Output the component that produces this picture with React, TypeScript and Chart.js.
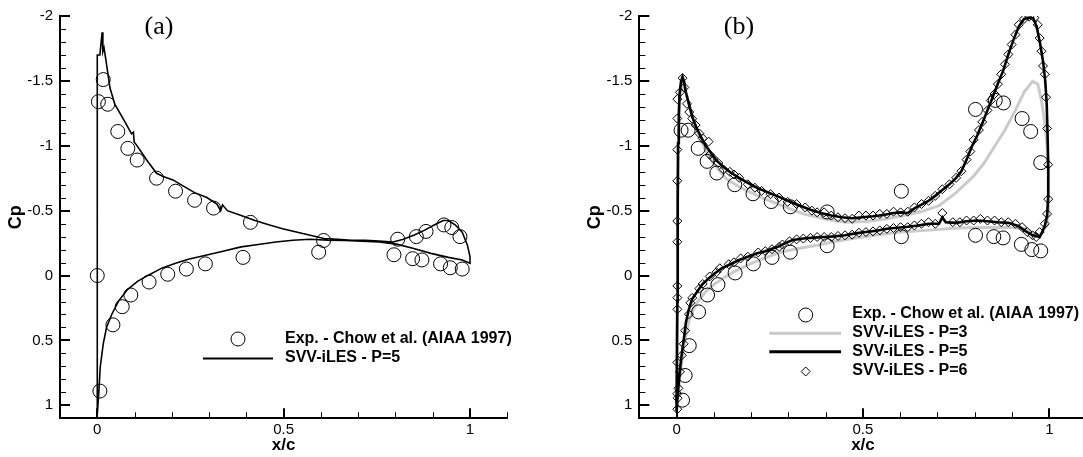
import React, { useEffect, useRef } from 'react';
import { Chart, registerables } from 'chart.js';

Chart.register(...registerables);

type P = [number, number];

// ---------- Panel (a) ----------
const expA: P[] = [
  [0.000, 0.00], [0.003, -1.34], [0.016, -1.51], [0.028, -1.32], [0.055, -1.11], [0.082, -0.98],
  [0.107, -0.89], [0.159, -0.75], [0.210, -0.65], [0.261, -0.58], [0.312, -0.52], [0.411, -0.41],
  [0.607, -0.27], [0.806, -0.28], [0.856, -0.30], [0.882, -0.34], [0.930, -0.39], [0.951, -0.37],
  [0.973, -0.30],
  [0.007, 0.89], [0.042, 0.38], [0.067, 0.24], [0.090, 0.15], [0.139, 0.05], [0.189, -0.01],
  [0.239, -0.05], [0.290, -0.09], [0.391, -0.14], [0.594, -0.18], [0.796, -0.16], [0.846, -0.13],
  [0.871, -0.12], [0.921, -0.09], [0.947, -0.06], [0.979, -0.05],
];

const lesA: P[] = [
  [0.000, 1.07], [0.000, 0.00], [0.000, -1.00], [0.000, -1.70], [0.007, -1.70], [0.013, -1.874],
  [0.015, -1.726], [0.018, -1.756], [0.023, -1.663], [0.034, -1.447], [0.047, -1.320], [0.070, -1.206],
  [0.092, -1.092], [0.097, -1.105], [0.099, -1.029], [0.106, -1.003], [0.133, -0.889], [0.159, -0.788],
  [0.177, -0.763], [0.203, -0.737], [0.230, -0.691], [0.261, -0.639], [0.294, -0.601], [0.321, -0.551],
  [0.331, -0.500], [0.336, -0.545], [0.349, -0.500], [0.386, -0.462], [0.423, -0.424], [0.460, -0.391],
  [0.497, -0.361], [0.534, -0.335], [0.571, -0.310], [0.608, -0.285], [0.645, -0.280], [0.682, -0.272],
  [0.719, -0.272], [0.756, -0.265], [0.794, -0.259], [0.821, -0.280], [0.849, -0.310], [0.877, -0.348],
  [0.905, -0.391], [0.928, -0.424], [0.942, -0.424], [0.960, -0.391], [0.979, -0.335], [0.993, -0.234],
  [1.000, -0.145],
  [1.000, -0.095], [0.979, -0.120], [0.942, -0.140], [0.895, -0.171], [0.849, -0.209], [0.803, -0.242],
  [0.756, -0.259], [0.710, -0.265], [0.664, -0.270], [0.618, -0.272], [0.571, -0.280], [0.525, -0.272],
  [0.479, -0.259], [0.432, -0.239], [0.386, -0.221], [0.340, -0.189], [0.294, -0.158], [0.247, -0.128],
  [0.210, -0.095], [0.173, -0.057], [0.136, -0.001], [0.108, 0.045], [0.081, 0.108], [0.057, 0.197],
  [0.039, 0.298], [0.025, 0.399], [0.016, 0.526], [0.008, 0.703], [0.004, 0.906], [0.000, 1.071],
];

// ---------- Panel (b) ----------
const expB: P[] = [
  [0.012, -1.12], [0.031, -1.12], [0.058, -0.98], [0.082, -0.88], [0.108, -0.79], [0.156, -0.70],
  [0.205, -0.63], [0.254, -0.57], [0.305, -0.53], [0.404, -0.49], [0.603, -0.65], [0.802, -1.28],
  [0.855, -1.35], [0.877, -1.33], [0.927, -1.21], [0.950, -1.11], [0.977, -0.87],
  [0.016, 0.96], [0.023, 0.77], [0.034, 0.54], [0.059, 0.28], [0.083, 0.15], [0.111, 0.07],
  [0.157, -0.02], [0.206, -0.09], [0.256, -0.14], [0.305, -0.18], [0.404, -0.23], [0.603, -0.30],
  [0.802, -0.31], [0.851, -0.30], [0.876, -0.29], [0.925, -0.24], [0.953, -0.20], [0.977, -0.19],
];

const p3B: P[] = [
  [0.000, 1.033], [0.002, 0.200], [0.003, -0.500], [0.005, -1.070], [0.009, -1.374], [0.016, -1.488],
  [0.021, -1.450], [0.033, -1.324], [0.051, -1.159], [0.075, -0.981], [0.098, -0.867], [0.135, -0.741],
  [0.172, -0.677], [0.228, -0.601], [0.284, -0.538], [0.340, -0.475], [0.396, -0.437], [0.452, -0.411],
  [0.508, -0.417], [0.564, -0.437], [0.610, -0.462], [0.657, -0.493], [0.704, -0.538], [0.750, -0.639],
  [0.797, -0.766], [0.825, -0.867], [0.853, -0.994], [0.881, -1.121], [0.909, -1.273], [0.932, -1.412],
  [0.955, -1.496], [0.969, -1.476], [0.979, -1.349], [0.988, -1.172], [0.994, -0.994], [0.998, -0.766],
  [0.998, -0.513], [0.993, -0.386], [0.974, -0.310],
  [0.955, -0.330], [0.930, -0.360], [0.890, -0.373], [0.820, -0.370], [0.750, -0.366], [0.680, -0.350],
  [0.601, -0.335], [0.530, -0.310], [0.471, -0.285], [0.420, -0.260], [0.377, -0.234], [0.330, -0.210],
  [0.284, -0.183], [0.240, -0.140], [0.191, -0.082], [0.155, -0.030], [0.126, 0.019], [0.100, 0.070],
  [0.079, 0.121], [0.051, 0.222], [0.033, 0.349], [0.019, 0.551], [0.009, 0.779], [0.001, 1.033],
];

const p5B: P[] = [
  [0.000, 1.046], [0.002, 0.197], [0.003, -0.563], [0.004, -1.019], [0.006, -1.247], [0.008, -1.400],
  [0.012, -1.496], [0.016, -1.531], [0.020, -1.496], [0.025, -1.412], [0.033, -1.323], [0.042, -1.222],
  [0.053, -1.141], [0.065, -1.070], [0.079, -0.999], [0.093, -0.943], [0.107, -0.887], [0.126, -0.837],
  [0.144, -0.796], [0.168, -0.753], [0.191, -0.715], [0.219, -0.672], [0.247, -0.639], [0.275, -0.606],
  [0.303, -0.571], [0.331, -0.538], [0.359, -0.507], [0.387, -0.482], [0.415, -0.462], [0.443, -0.449],
  [0.471, -0.442], [0.499, -0.449], [0.527, -0.457], [0.555, -0.467], [0.582, -0.482], [0.601, -0.487],
  [0.620, -0.482], [0.638, -0.518], [0.657, -0.546], [0.676, -0.576], [0.694, -0.614], [0.713, -0.660],
  [0.732, -0.703], [0.750, -0.753], [0.764, -0.804], [0.778, -0.893], [0.792, -0.994], [0.806, -1.075],
  [0.820, -1.171], [0.834, -1.273], [0.848, -1.374], [0.862, -1.480], [0.876, -1.577], [0.890, -1.704],
  [0.904, -1.818], [0.918, -1.919], [0.932, -1.977], [0.946, -1.987], [0.957, -1.982], [0.966, -1.919],
  [0.975, -1.792], [0.983, -1.653], [0.989, -1.500], [0.993, -1.323], [0.995, -1.121], [0.997, -0.867],
  [0.997, -0.614], [0.994, -0.462], [0.988, -0.386], [0.981, -0.335], [0.974, -0.297],
  [0.955, -0.310], [0.937, -0.340], [0.918, -0.381], [0.890, -0.406], [0.862, -0.411], [0.834, -0.419],
  [0.806, -0.424], [0.778, -0.419], [0.750, -0.406], [0.722, -0.411], [0.713, -0.449], [0.704, -0.399],
  [0.676, -0.399], [0.648, -0.386], [0.620, -0.376], [0.592, -0.368], [0.564, -0.360], [0.536, -0.345],
  [0.508, -0.335], [0.480, -0.325], [0.452, -0.310], [0.424, -0.302], [0.396, -0.297], [0.368, -0.292],
  [0.340, -0.285], [0.312, -0.274], [0.294, -0.254], [0.275, -0.226], [0.256, -0.206], [0.238, -0.188],
  [0.214, -0.170], [0.191, -0.145], [0.168, -0.120], [0.144, -0.087], [0.121, -0.056], [0.103, -0.018],
  [0.089, 0.015], [0.070, 0.065], [0.056, 0.121], [0.042, 0.180], [0.033, 0.260], [0.025, 0.362],
  [0.019, 0.501], [0.014, 0.602], [0.009, 0.729], [0.005, 0.856], [0.002, 0.957], [0.000, 1.046],
];

const p6B: P[] = [
  [0.002, 1.03], [0.002, 0.91], [0.002, 0.67], [0.002, 0.26], [0.002, 0.17], [0.002, 0.08],
  [0.002, -0.26], [0.002, -0.42], [0.002, -0.73], [0.002, -0.97], [0.002, -1.21], [0.002, -1.36],
  [0.009, -1.412], [0.016, -1.521], [0.021, -1.450], [0.028, -1.323], [0.034, -1.260], [0.042, -1.209],
  [0.051, -1.159], [0.061, -1.095], [0.070, -1.057], [0.086, -1.032], [0.089, -0.931], [0.098, -0.905],
  [0.112, -0.867], [0.126, -0.817], [0.143, -0.799], [0.154, -0.779], [0.168, -0.753], [0.191, -0.703],
  [0.210, -0.677], [0.228, -0.652], [0.252, -0.627], [0.275, -0.601], [0.298, -0.568], [0.322, -0.551],
  [0.345, -0.525], [0.363, -0.500], [0.377, -0.487], [0.396, -0.487], [0.415, -0.462], [0.433, -0.449],
  [0.452, -0.442], [0.471, -0.437], [0.489, -0.462], [0.508, -0.462], [0.527, -0.462], [0.545, -0.475],
  [0.564, -0.475], [0.582, -0.492], [0.601, -0.487], [0.620, -0.492], [0.638, -0.525], [0.657, -0.551],
  [0.676, -0.576], [0.694, -0.614], [0.713, -0.665], [0.732, -0.703], [0.750, -0.753], [0.764, -0.804],
  [0.778, -0.893], [0.788, -0.956], [0.797, -1.045], [0.811, -1.121], [0.820, -1.184], [0.834, -1.273],
  [0.843, -1.349], [0.853, -1.399], [0.862, -1.475], [0.871, -1.551], [0.881, -1.628], [0.890, -1.704],
  [0.899, -1.780], [0.909, -1.856], [0.918, -1.932], [0.932, -1.977], [0.946, -1.995], [0.960, -1.987],
  [0.969, -1.932], [0.974, -1.830], [0.979, -1.729], [0.983, -1.615], [0.988, -1.551], [0.991, -1.374],
  [0.994, -1.133], [0.997, -0.855], [0.997, -0.589], [0.994, -0.475], [0.988, -0.399],
  [0.974, -0.335], [0.965, -0.297], [0.955, -0.310], [0.941, -0.335], [0.927, -0.373], [0.909, -0.399],
  [0.890, -0.411], [0.871, -0.411], [0.853, -0.424], [0.834, -0.424], [0.815, -0.437], [0.797, -0.424],
  [0.778, -0.424], [0.760, -0.411], [0.741, -0.411], [0.713, -0.482], [0.694, -0.399], [0.676, -0.411],
  [0.657, -0.399], [0.638, -0.386], [0.620, -0.373], [0.601, -0.373], [0.582, -0.366], [0.564, -0.360],
  [0.545, -0.348], [0.527, -0.340], [0.508, -0.335], [0.489, -0.330], [0.471, -0.315], [0.452, -0.310],
  [0.433, -0.305], [0.415, -0.297], [0.396, -0.297], [0.377, -0.297], [0.359, -0.290], [0.340, -0.285],
  [0.322, -0.279], [0.303, -0.264], [0.284, -0.239], [0.275, -0.221], [0.256, -0.203], [0.238, -0.188],
  [0.219, -0.178], [0.191, -0.145], [0.172, -0.132], [0.154, -0.102], [0.140, -0.087], [0.116, -0.056],
  [0.107, -0.026], [0.089, 0.007], [0.070, 0.065], [0.061, 0.101], [0.042, 0.172], [0.037, 0.210],
  [0.033, 0.298], [0.023, 0.425], [0.019, 0.526], [0.014, 0.615], [0.009, 0.742], [0.005, 0.869],
  [0.003, 0.945],
];

// ---------- Axes / text ----------
const xTickValues = [0, 0.5, 1];
const xTickLabels = ['0', '0.5', '1'];
const yTickValues = [-2, -1.5, -1, -0.5, 0, 0.5, 1];
const yTickLabels = ['-2', '-1.5', '-1', '-0.5', '0', '0.5', '1'];
const legendA = ['Exp. - Chow et al. (AIAA 1997)', 'SVV-iLES - P=5'];
const legendB = ['Exp. - Chow et al. (AIAA 1997)', 'SVV-iLES - P=3', 'SVV-iLES - P=5', 'SVV-iLES - P=6'];

const SANS = '"Liberation Sans", Arial, Helvetica, sans-serif';
const SERIF = '"Liberation Serif", "Times New Roman", serif';
const HEIGHT = 457;

const toPts = (a: P[]) => a.map(([x, y]) => ({ x, y }));

function circle(ctx: CanvasRenderingContext2D, x: number, y: number, r: number) {
  ctx.beginPath();
  ctx.arc(x, y, r, 0, Math.PI * 2);
  ctx.stroke();
}
function diamond(ctx: CanvasRenderingContext2D, x: number, y: number, r: number) {
  ctx.beginPath();
  ctx.moveTo(x - r, y);
  ctx.lineTo(x, y - r);
  ctx.lineTo(x + r, y);
  ctx.lineTo(x, y + r);
  ctx.closePath();
  ctx.stroke();
}
function hline(ctx: CanvasRenderingContext2D, x1: number, x2: number, y: number, w: number, c: string) {
  ctx.strokeStyle = c;
  ctx.lineWidth = w;
  ctx.beginPath();
  ctx.moveTo(x1, y);
  ctx.lineTo(x2, y);
  ctx.stroke();
}

function axisTicksPlugin() {
  return {
    id: 'innerTicks',
    afterDatasetsDraw(chart: any) {
      const ctx: CanvasRenderingContext2D = chart.ctx;
      const xs = chart.scales.x;
      const ys = chart.scales.y;
      const { left, bottom } = chart.chartArea;
      ctx.save();
      ctx.strokeStyle = '#000';
      for (let i = 0; i <= 11; i++) {
        const major = i % 5 === 0;
        const px = Math.round(xs.getPixelForValue(i / 10)) + (major ? 0 : 0.5);
        ctx.lineWidth = major ? 2 : 1;
        ctx.beginPath();
        ctx.moveTo(px, bottom);
        ctx.lineTo(px, bottom - (major ? 10 : 6));
        ctx.stroke();
      }
      for (let i = -20; i <= 10; i++) {
        const major = i % 5 === 0;
        const py = Math.round(ys.getPixelForValue(i / 10)) + (major ? 0 : 0.5);
        ctx.lineWidth = major ? 2 : 1;
        ctx.beginPath();
        ctx.moveTo(left, py);
        ctx.lineTo(left + (major ? 10 : 6), py);
        ctx.stroke();
      }
      ctx.restore();
    },
  };
}

function decorPlugin(panel: 'a' | 'b') {
  return {
    id: 'decor',
    afterDraw(chart: any) {
      const ctx: CanvasRenderingContext2D = chart.ctx;
      ctx.save();
      ctx.fillStyle = '#000';
      ctx.textBaseline = 'middle';
      ctx.textAlign = 'center';
      ctx.font = `26px ${SERIF}`;
      if (panel === 'a') {
        ctx.fillText('(a)', 159, 27);
        ctx.strokeStyle = '#000';
        ctx.lineWidth = 1;
        circle(ctx, 238, 339, 7);
        hline(ctx, 203, 273, 358.5, 2, '#000');
        ctx.textAlign = 'left';
        ctx.font = `bold 16px ${SANS}`;
        ctx.fillText(legendA[0], 285, 339);
        ctx.fillText(legendA[1], 285, 358);
      } else {
        ctx.fillText('(b)', 199, 27);
        ctx.strokeStyle = '#000';
        ctx.lineWidth = 1;
        circle(ctx, 265.7, 315, 7);
        hline(ctx, 229.3, 301, 333.3, 3, '#c8c8c8');
        hline(ctx, 229.3, 301, 351.7, 3, '#000');
        ctx.strokeStyle = '#000';
        ctx.lineWidth = 1;
        diamond(ctx, 265.7, 371.5, 4.5);
        ctx.textAlign = 'left';
        ctx.font = `bold 16px ${SANS}`;
        const rows = [314, 333, 352, 370.5];
        legendB.forEach((t, i) => ctx.fillText(t, 312.3, rows[i]));
      }
      ctx.restore();
    },
  };
}

function buildOptions(yAxisWidth: number, rightPad: number, yTitlePad: number) {
  const tickFont = { family: SANS, size: 15 };
  const titleFont = { family: SANS, size: 18, weight: 'bold' as const };
  return {
    animation: false as const,
    responsive: false,
    events: [] as any[],
    layout: { padding: { top: 10.7, right: rightPad, bottom: 0, left: 0 } },
    plugins: { legend: { display: false }, tooltip: { enabled: false }, title: { display: false } },
    scales: {
      x: {
        type: 'linear' as const,
        position: 'bottom' as const,
        min: -0.1,
        max: 1.1,
        grid: { display: false, drawTicks: false },
        border: { display: true, color: '#000', width: 2 },
        afterBuildTicks: (s: any) => { s.ticks = xTickValues.map((v) => ({ value: v })); },
        afterFit: (s: any) => { s.height = 38.7; },
        ticks: {
          autoSkip: false, maxRotation: 0, minRotation: 0, padding: 3, color: '#000', font: tickFont,
          callback: (_v: any, i: number) => xTickLabels[i],
        },
        title: { display: true, text: 'x/c', color: '#000', font: { ...titleFont, size: 17 }, padding: { top: 0, bottom: 1 } },
      },
      y: {
        type: 'linear' as const,
        position: 'left' as const,
        reverse: true,
        min: -2,
        max: 1.1,
        grid: { display: false, drawTicks: false },
        border: { display: true, color: '#000', width: 2 },
        afterBuildTicks: (s: any) => { s.ticks = yTickValues.map((v) => ({ value: v })); },
        afterFit: (s: any) => { s.width = yAxisWidth; },
        ticks: {
          autoSkip: false, padding: 7, color: '#000', font: tickFont,
          callback: (_v: any, i: number) => yTickLabels[i],
        },
        title: { display: true, text: 'Cp', color: '#000', font: titleFont, padding: { top: yTitlePad, bottom: 0 } },
      },
    },
  };
}

const expStyle = {
  showLine: false,
  pointStyle: 'circle',
  pointRadius: 7,
  pointBorderWidth: 1,
  pointBorderColor: '#000',
  pointBackgroundColor: 'rgba(0,0,0,0)',
  borderColor: '#000',
  backgroundColor: 'rgba(0,0,0,0)',
};

function lineStyle(color: string, width: number) {
  return {
    showLine: true,
    pointRadius: 0,
    borderColor: color,
    borderWidth: width,
    backgroundColor: color,
    tension: 0,
    fill: false,
  };
}

function PanelA() {
  const ref = useRef<HTMLCanvasElement>(null);
  useEffect(() => {
    if (!ref.current) return;
    const chart = new Chart(ref.current, {
      type: 'scatter',
      data: {
        datasets: [
          { label: legendA[0], data: toPts(expA), ...expStyle } as any,
          { label: legendA[1], data: toPts(lesA), ...lineStyle('#000', 1.6) } as any,
        ],
      },
      options: buildOptions(60, 32.7, 5.3) as any,
      plugins: [axisTicksPlugin(), decorPlugin('a')],
    });
    return () => chart.destroy();
  }, []);
  return <canvas ref={ref} width={540} height={HEIGHT} style={{ position: 'absolute', left: 0, top: 0, width: 540, height: HEIGHT }} />;
}

function PanelB() {
  const ref = useRef<HTMLCanvasElement>(null);
  useEffect(() => {
    if (!ref.current) return;
    const chart = new Chart(ref.current, {
      type: 'scatter',
      data: {
        datasets: [
          { label: legendB[0], data: toPts(expB), ...expStyle } as any,
          {
            label: legendB[3], data: toPts(p6B), showLine: false, pointStyle: 'rectRot', pointRadius: 4.5,
            pointBorderWidth: 1, pointBorderColor: '#000', pointBackgroundColor: 'rgba(0,0,0,0)',
            borderColor: '#000', backgroundColor: 'rgba(0,0,0,0)',
          } as any,
          { label: legendB[2], data: toPts(p5B), ...lineStyle('#000', 2.6) } as any,
          { label: legendB[1], data: toPts(p3B), ...lineStyle('#cbcbcb', 3) } as any,
        ],
      },
      options: buildOptions(99.3, 13.4, 44.5) as any,
      plugins: [axisTicksPlugin(), decorPlugin('b')],
    });
    return () => chart.destroy();
  }, []);
  return <canvas ref={ref} width={560} height={HEIGHT} style={{ position: 'absolute', left: 540, top: 0, width: 560, height: HEIGHT }} />;
}

export default function App() {
  return (
    <div style={{ position: 'absolute', left: 0, top: 0, width: 1083, height: HEIGHT, overflow: 'hidden', background: '#fff' }}>
      <PanelA />
      <PanelB />
    </div>
  );
}
